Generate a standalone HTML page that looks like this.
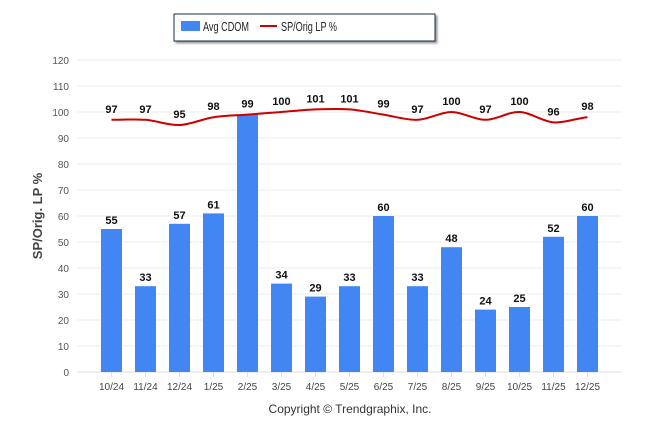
<!DOCTYPE html>
<html><head><meta charset="utf-8"><style>
body{margin:0;background:#fff;}
svg{display:block;font-family:"Liberation Sans",sans-serif;}
</style></head><body>
<svg id="c" width="646" height="434">
<g>
<rect x="174" y="14" width="261" height="27" fill="#fff" stroke="#1a2a4a" stroke-width="1" style="filter:drop-shadow(2px 2px 1px #999)"/>
<rect x="181" y="21" width="19" height="10" fill="#4286f4"/>
<text x="203" y="31" font-size="12.5" textLength="46" lengthAdjust="spacingAndGlyphs" fill="#222">Avg CDOM</text>
<line x1="260" y1="26" x2="277" y2="26" stroke="#c00" stroke-width="2"/>
<text x="281" y="31" font-size="12.5" textLength="56" lengthAdjust="spacingAndGlyphs" fill="#222">SP/Orig LP %</text>
</g>
<text transform="translate(42,216) rotate(-90)" text-anchor="middle" font-size="13" font-weight="bold" fill="#444">SP/Orig. LP %</text>
<g id="grid"></g><g id="bars"></g><g id="line"></g>
<text x="350" y="413" text-anchor="middle" font-size="12" fill="#333">Copyright © Trendgraphix, Inc.</text>
</svg>
<script>
const categories=["10/24","11/24","12/24","1/25","2/25","3/25","4/25","5/25","6/25","7/25","8/25","9/25","10/25","11/25","12/25"];
const cdom=[55,33,57,61,99,34,29,33,60,33,48,24,25,52,60];
const sp=[97,97,95,98,99,100,101,101,99,97,100,97,100,96,98];
const ticks=[0,10,20,30,40,50,60,70,80,90,100,110,120];
const NS="http://www.w3.org/2000/svg";
const y=v=>372-v*2.6, x=i=>111.5+i*34;
function mk(t,a,p){const e=document.createElementNS(NS,t);for(const k in a)e.setAttribute(k,a[k]);p.appendChild(e);return e;}
const G=document.getElementById('grid'),B=document.getElementById('bars'),L=document.getElementById('line');
ticks.forEach(t=>{
const l=mk('line',{x1:77,x2:622,y1:y(t),y2:y(t),stroke:t==0?'#ddd':'#ebebeb'},G);


const tx=mk('text',{x:69,y:y(t)+4,'text-anchor':'end','font-size':10,fill:'#555'},G);tx.textContent=t;


});
categories.forEach((c,i)=>{
const r=mk('rect',{x:x(i)-10.5,y:y(cdom[i]),width:21,height:cdom[i]*2.6,fill:'#4286f4'},B);


if(Math.abs(cdom[i]-sp[i])>4){
const v=mk('text',{x:x(i),y:y(cdom[i])-5,'text-anchor':'middle','font-size':11,'font-weight':'bold',fill:'#111'},B);v.textContent=cdom[i];


}
const tk=mk('line',{x1:x(i),x2:x(i),y1:372,y2:377,stroke:'#ddd'},G);


const xl=mk('text',{x:x(i),y:390,'text-anchor':'middle','font-size':10,fill:'#444'},G);xl.textContent=c;


});
let d='';
sp.forEach((v,i)=>{
if(i==0){d='M'+x(0)+','+y(v);return;}
const x0=x(i-1),y0=y(sp[i-1]),x1=x(i),y1=y(v);
const pm=i>1?y(sp[i-2]):y0, nx=i<sp.length-1?y(sp[i+1]):y1;
const c1y=y0+(y1-pm)/6, c2y=y1-(nx-y0)/6;
d+=` C${x0+11.3},${c1y} ${x1-11.3},${c2y} ${x1},${y1}`;
});
const p=mk('path',{d:d,fill:'none',stroke:'#c00',"stroke-width":2},L);


sp.forEach((v,i)=>{
const t=mk('text',{x:x(i),y:y(v)-7,'text-anchor':'middle','font-size':11,'font-weight':'bold',fill:'#111'},L);t.textContent=v;


});
</script>
</body></html>
